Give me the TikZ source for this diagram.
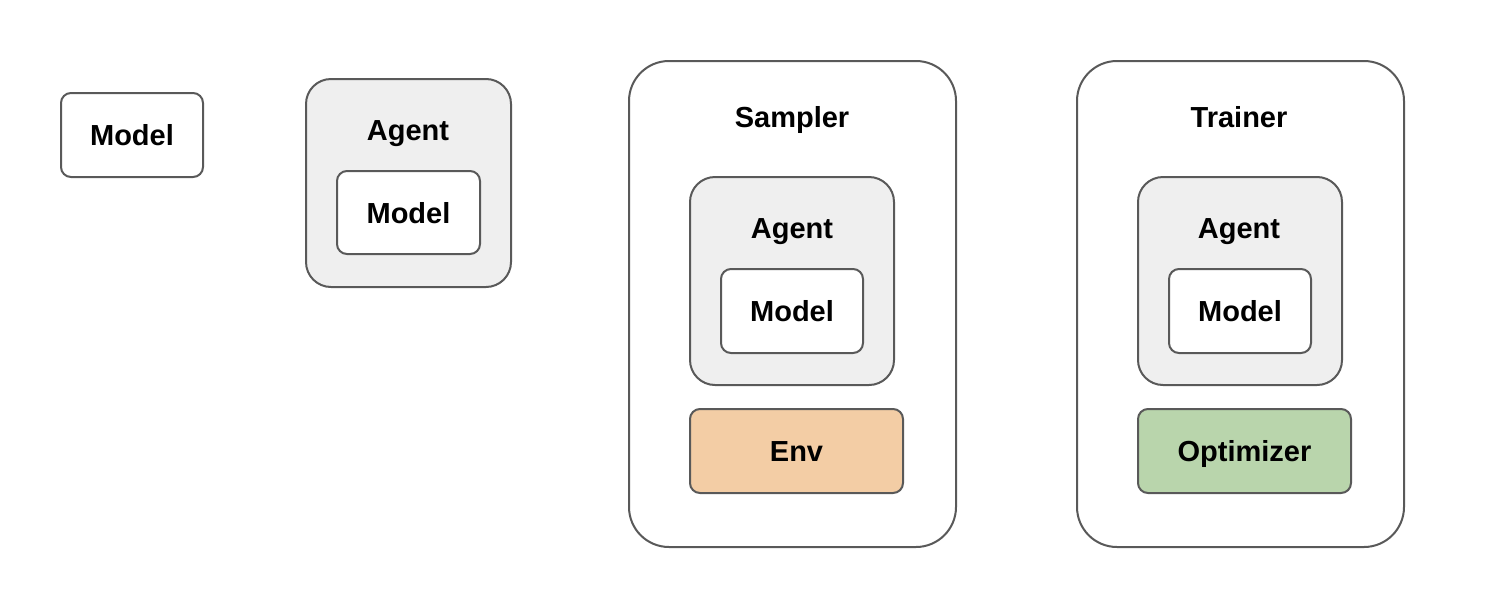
\documentclass[tikz,border=0pt]{standalone}
\usepackage{fontspec}
\setmainfont{Liberation Sans}
\definecolor{edge}{HTML}{595959}
\definecolor{agentfill}{HTML}{EFEFEF}
\definecolor{envfill}{HTML}{F3CDA5}
\definecolor{optfill}{HTML}{B9D5AC}
\tikzset{
  txt/.style={font=\fontsize{29}{33}\selectfont\bfseries, text height=21pt, text depth=0pt},
  box/.style={txt, draw=edge, line width=2pt, inner sep=0pt, anchor=north west},
  smallbox/.style={box, rounded corners=10pt},
  agentbox/.style={box, fill=agentfill, rounded corners=25pt},
  bigbox/.style={box, fill=white, rounded corners=40pt},
  lbl/.style={txt, inner sep=0pt}
}
\begin{document}
\begin{tikzpicture}[x=1pt,y=-1pt]
\useasboundingbox (0,0) rectangle (1490,600);
% standalone model
\node[smallbox, fill=white, minimum width=142pt, minimum height=84pt] (m1) at (60,92) {Model};
% agent
\node[agentbox, minimum width=205pt, minimum height=208pt] (a2) at (305,78) {};
\node[lbl] (a2l) at (408,130) {Agent};
\node[smallbox, fill=white, minimum width=143pt, minimum height=83pt] (m2) at (336,170) {Model};
% sampler
\node[bigbox, minimum width=327pt, minimum height=486pt] (s) at (628,60) {};
\node[lbl] (sl) at (792,117) {Sampler};
\node[agentbox, minimum width=204pt, minimum height=208pt] (a3) at (689,176) {};
\node[lbl] (a3l) at (792,228) {Agent};
\node[smallbox, fill=white, minimum width=142pt, minimum height=84pt] (m3) at (720,268) {Model};
\node[smallbox, fill=envfill, minimum width=213pt, minimum height=84pt] (env) at (689,408) {Env};
% trainer
\node[bigbox, minimum width=327pt, minimum height=486pt] (t) at (1076,60) {};
\node[lbl] (tl) at (1239,117) {Trainer};
\node[agentbox, minimum width=204pt, minimum height=208pt] (a4) at (1137,176) {};
\node[lbl] (a4l) at (1239,228) {Agent};
\node[smallbox, fill=white, minimum width=142pt, minimum height=84pt] (m4) at (1168,268) {Model};
\node[smallbox, fill=optfill, minimum width=213pt, minimum height=84pt] (opt) at (1137,408) {Optimizer};
\end{tikzpicture}
\end{document}
